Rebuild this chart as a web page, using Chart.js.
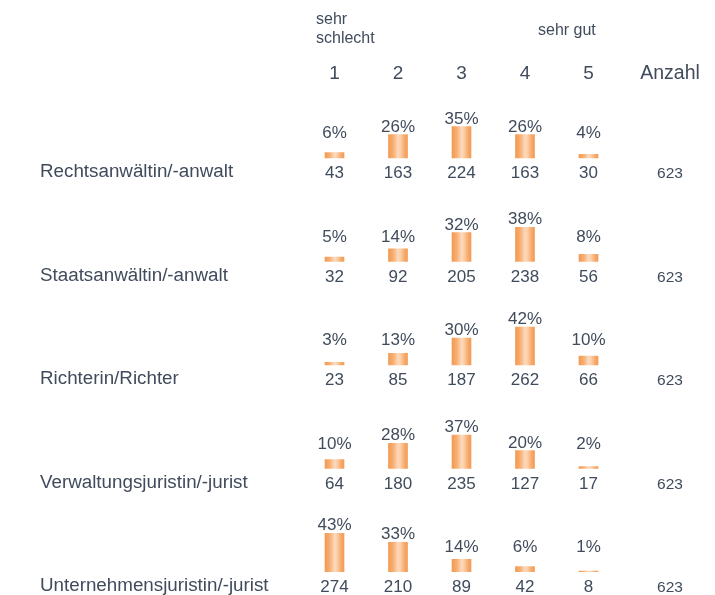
<!DOCTYPE html>
<html lang="de">
<head>
<meta charset="utf-8">
<title>Bewertung Berufsbilder</title>
<script src="https://cdn.jsdelivr.net/npm/chart.js@4.4.1/dist/chart.umd.min.js"></script>
<style>
    html, body { margin: 0; padding: 0; background: #fff; }
    canvas { display: block; }
</style>
</head>
<body>
<canvas id="bewertungChart" width="715" height="595"></canvas>
<script>
const categories = ['1', '2', '3', '4', '5'];
const rowLabels = [
    'Rechtsanwältin/-anwalt',
    'Staatsanwältin/-anwalt',
    'Richterin/Richter',
    'Verwaltungsjuristin/-jurist',
    'Unternehmensjuristin/-jurist'
];
const percents = [
    [6, 26, 35, 26, 4],
    [5, 14, 32, 38, 8],
    [3, 13, 30, 42, 10],
    [10, 28, 37, 20, 2],
    [43, 33, 14, 6, 1]
];
const counts = [
    [43, 163, 224, 163, 30],
    [32, 92, 205, 238, 56],
    [23, 85, 187, 262, 66],
    [64, 180, 235, 127, 17],
    [274, 210, 89, 42, 8]
];
const totals = [623, 623, 623, 623, 623];
const scaleEnds = ['sehr schlecht', 'sehr gut'];
const totalTitle = 'Anzahl';

const FONT = '"Liberation Sans", Arial, sans-serif';
const TEXT = '#404b5c';
const ROW_STEP = 115; // y units between two rows

// each row sits on its own baseline, the bars float up from there
function rowBase(r) {
    return (rowLabels.length - 1 - r) * ROW_STEP;
}

function barFill(c) {
    const fallback = '#f6a864';
    if (c.dataIndex === undefined || !c.chart.scales.x) return fallback;
    const x = c.chart.scales.x.getPixelForValue(c.dataIndex);
    if (!Number.isFinite(x)) return fallback;
    const g = c.chart.ctx.createLinearGradient(x - 9.5, 0, x + 9.5, 0);
    g.addColorStop(0, '#f39a52');
    g.addColorStop(0.25, '#f7ae72');
    g.addColorStop(0.5, '#fdd9bb');
    g.addColorStop(0.62, '#fcd0ac');
    g.addColorStop(0.85, '#f6a96a');
    g.addColorStop(1, '#f39c55');
    return g;
}

function drawText(ctx, text, x, y, size, align) {
    ctx.font = size + 'px ' + FONT;
    ctx.textAlign = align;
    ctx.fillText(text, x, y);
}

const labelPlugin = {
    id: 'tableLabels',
    afterDatasetsDraw(chart) {
        const ctx = chart.ctx;
        const xs = chart.scales.x;
        ctx.save();
        ctx.fillStyle = TEXT;
        ctx.textBaseline = 'alphabetic';

        // header
        const endWords = scaleEnds[0].split(' ');
        drawText(ctx, endWords[0], 316, 24, 16, 'left');
        drawText(ctx, endWords[1], 316, 43, 16, 'left');
        drawText(ctx, scaleEnds[1], 538, 35, 16, 'left');

        categories.forEach((c, i) => drawText(ctx, c, xs.getPixelForValue(i), 79, 19, 'center'));
        drawText(ctx, totalTitle, 670, 79, 19.5, 'center');

        rowLabels.forEach((name, r) => {
            const meta = chart.getDatasetMeta(r);
            const base = meta.data[0].base;

            drawText(ctx, name, 40, base + 19, 18.8, 'left');

            meta.data.forEach((bar, i) => {
                const py = Math.min(bar.y - 3, bar.base - 20);
                drawText(ctx, percents[r][i] + '%', bar.x, py, 17, 'center');
                drawText(ctx, String(counts[r][i]), bar.x, bar.base + 20, 17, 'center');
            });

            drawText(ctx, String(totals[r]), 670, base + 20, 15.5, 'center');
        });
        ctx.restore();
    }
};

new Chart(document.getElementById('bewertungChart'), {
    type: 'bar',
    data: {
        labels: categories,
        datasets: rowLabels.map((name, r) => ({
            label: name,
            data: percents[r].map(p => [rowBase(r), rowBase(r) + p]),
            grouped: false,
            barThickness: 19,
            borderWidth: 0,
            backgroundColor: barFill
        }))
    },
    options: {
        responsive: false,
        animation: false,
        layout: {
            padding: { left: 302.75, right: 94.75, top: 113, bottom: 23 }
        },
        plugins: {
            legend: { display: false },
            tooltip: { enabled: false }
        },
        scales: {
            x: { display: false, offset: true },
            y: { display: false, min: 0, max: 510 }
        }
    },
    plugins: [labelPlugin]
});
</script>
</body>
</html>
